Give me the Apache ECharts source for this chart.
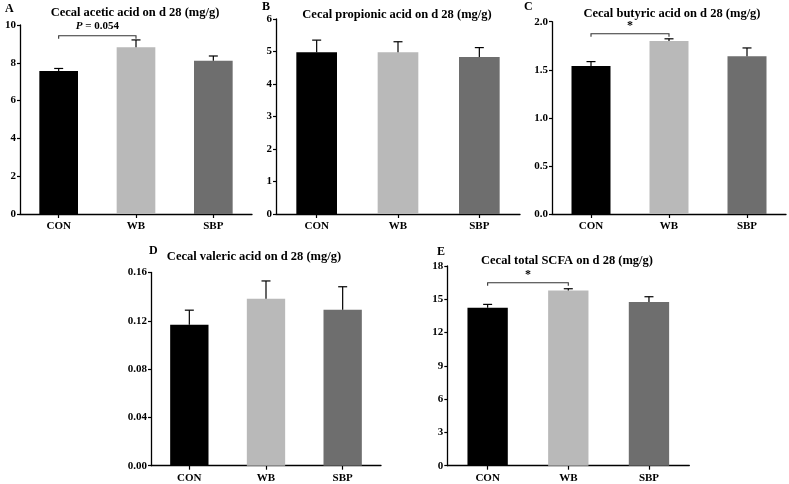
<!DOCTYPE html>
<html>
<head>
<meta charset="utf-8">
<script src="https://cdn.jsdelivr.net/npm/echarts@6/dist/echarts.min.js"></script>
<style>
html,body{margin:0;padding:0;background:#fff;}
#c{width:789px;height:484px;}
</style>
</head>
<body>
<div id="c"></div>
<script>
// ---- data ----
const categories = ['CON', 'WB', 'SBP'];
const barColors = ['#000000', '#b9b9b9', '#6e6e6e'];

const aceticMean = [7.57, 8.82, 8.11];
const aceticErr = [0.13, 0.39, 0.25];
const propionicMean = [4.98, 4.98, 4.83];
const propionicErr = [0.37, 0.32, 0.29];
const butyricMean = [1.54, 1.80, 1.64];
const butyricErr = [0.045, 0.022, 0.087];
const valericMean = [0.1168, 0.1383, 0.1292];
const valericErr = [0.012, 0.0147, 0.019];
const totalMean = [14.23, 15.80, 14.75];
const totalErr = [0.31, 0.15, 0.48];

const panelLetters = ['A', 'B', 'C', 'D', 'E'];
const panelTitles = [
  'Cecal acetic acid on d 28 (mg/g)',
  'Cecal propionic acid on d 28 (mg/g)',
  'Cecal butyric acid on d 28 (mg/g)',
  'Cecal valeric acid on d 28 (mg/g)',
  'Cecal total SCFA on d 28 (mg/g)'
];
const yMax = [10, 6, 2.0, 0.16, 18];
const yInterval = [2, 1, 0.5, 0.04, 3];
const yDecimals = [0, 0, 1, 2, 0];

// significance brackets: [panel, fromIndex, toIndex, yValue, label]
const brackets = [
  [0, 0, 1, 9.43, 'P = 0.054'],
  [2, 0, 1, 1.874, '*'],
  [4, 0, 1, 16.49, '*']
];

// ---- layout (styles only) ----
const grids = [
  {left: 20, top: 25, width: 232, height: 189},
  {left: 276, top: 19, width: 244, height: 195},
  {left: 552, top: 21.7, width: 234, height: 192.3},
  {left: 151, top: 272.5, width: 230, height: 193.2},
  {left: 447.3, top: 266, width: 242, height: 199.7}
];
const titlePos = [[135, 6], [397, 8], [672, 7], [254, 250], [567, 254]];
const letterPos = [[5, 3], [262, 1], [524, 1], [149, 245], [437, 246]];

const FONT = '"Liberation Serif", "Times New Roman", serif';
const means = [aceticMean, propionicMean, butyricMean, valericMean, totalMean];
const errs = [aceticErr, propionicErr, butyricErr, valericErr, totalErr];

const option = {
  animation: false,
  backgroundColor: '#ffffff',
  grid: grids.map(g => Object.assign({containLabel: false}, g)),
  xAxis: grids.map((g, i) => ({
    type: 'category',
    gridIndex: i,
    data: categories,
    axisLine: {lineStyle: {color: '#000', width: 1.3}},
    axisTick: {show: true, alignWithLabel: true, length: 4, lineStyle: {color: '#000', width: 1.2}},
    axisLabel: {color: '#000', fontFamily: FONT, fontWeight: 'bold', fontSize: 11, margin: 7}
  })),
  yAxis: grids.map((g, i) => ({
    type: 'value',
    gridIndex: i,
    min: 0,
    max: yMax[i],
    interval: yInterval[i],
    splitLine: {show: false},
    axisLine: {show: true, lineStyle: {color: '#000', width: 1.3}},
    axisTick: {show: true, length: 3, lineStyle: {color: '#000', width: 1.2}},
    axisLabel: {
      color: '#000', fontFamily: FONT, fontWeight: 'bold', fontSize: 11, margin: 4,
      formatter: v => Number(v).toFixed(yDecimals[i])
    }
  })),
  graphic: [],
  series: []
};

for (let i = 0; i < 5; i++) {
  option.series.push({
    type: 'bar',
    xAxisIndex: i, yAxisIndex: i,
    barWidth: '50%',
    data: means[i].map((v, k) => ({value: v, itemStyle: {color: barColors[k]}})),
    z: 2
  });
  option.series.push({
    type: 'custom',
    xAxisIndex: i, yAxisIndex: i,
    z: 3,
    encode: {x: 0, y: 1},
    data: means[i].map((v, k) => [k, v, errs[i][k]]),
    renderItem: function (params, api) {
      const x = api.value(0), y = api.value(1), e = api.value(2);
      const base = api.coord([x, y]);
      const top = api.coord([x, y + e]);
      const cap = 4.5;
      return {
        type: 'group',
        children: [
          {type: 'line', shape: {x1: base[0], y1: base[1], x2: top[0], y2: top[1]}, style: {stroke: '#000', lineWidth: 1.2}},
          {type: 'line', shape: {x1: top[0] - cap, y1: top[1], x2: top[0] + cap, y2: top[1]}, style: {stroke: '#000', lineWidth: 1.2}}
        ]
      };
    }
  });
}

brackets.forEach(b => {
  const [p, a, c, yv, label] = b;
  option.series.push({
    type: 'custom',
    xAxisIndex: p, yAxisIndex: p,
    z: 4,
    encode: {x: [0, 1], y: 2},
    data: [[a, c, yv]],
    renderItem: function (params, api) {
      const p1 = api.coord([api.value(0), api.value(2)]);
      const p2 = api.coord([api.value(1), api.value(2)]);
      const drop = 3;
      const isP = label.indexOf('P') === 0;
      return {
        type: 'group',
        children: [
          {type: 'polyline', shape: {points: [[p1[0], p1[1] + drop], [p1[0], p1[1]], [p2[0], p1[1]], [p2[0], p2[1] + drop]]},
            style: {stroke: '#333', lineWidth: 1.1, fill: null}},
          {type: 'text', x: (p1[0] + p2[0]) / 2, y: p1[1] - (isP ? 4 : 2),
            style: isP ? {
              text: '{i|P}{n| = 0.054}', textAlign: 'center', textVerticalAlign: 'bottom',
              rich: {
                i: {fontFamily: FONT, fontStyle: 'italic', fontWeight: 'bold', fontSize: 11, fill: '#000'},
                n: {fontFamily: FONT, fontWeight: 'bold', fontSize: 11, fill: '#000'}
              }
            } : {
              text: label, textAlign: 'center', textVerticalAlign: 'bottom',
              fontFamily: FONT, fontWeight: 'bold', fontSize: 12, fill: '#000'
            }}
        ]
      };
    }
  });
});

for (let i = 0; i < 5; i++) {
  option.graphic.push({
    type: 'text', x: titlePos[i][0], y: titlePos[i][1],
    style: {text: panelTitles[i], textAlign: 'center', textVerticalAlign: 'top',
      fontFamily: FONT, fontWeight: 'bold', fontSize: 12.5, fill: '#000'}
  });
  option.graphic.push({
    type: 'text', x: letterPos[i][0], y: letterPos[i][1],
    style: {text: panelLetters[i], textAlign: 'left', textVerticalAlign: 'top',
      fontFamily: FONT, fontWeight: 'bold', fontSize: 12, fill: '#000'}
  });
}

const chart = echarts.init(document.getElementById('c'));
chart.setOption(option);
</script>
</body>
</html>
